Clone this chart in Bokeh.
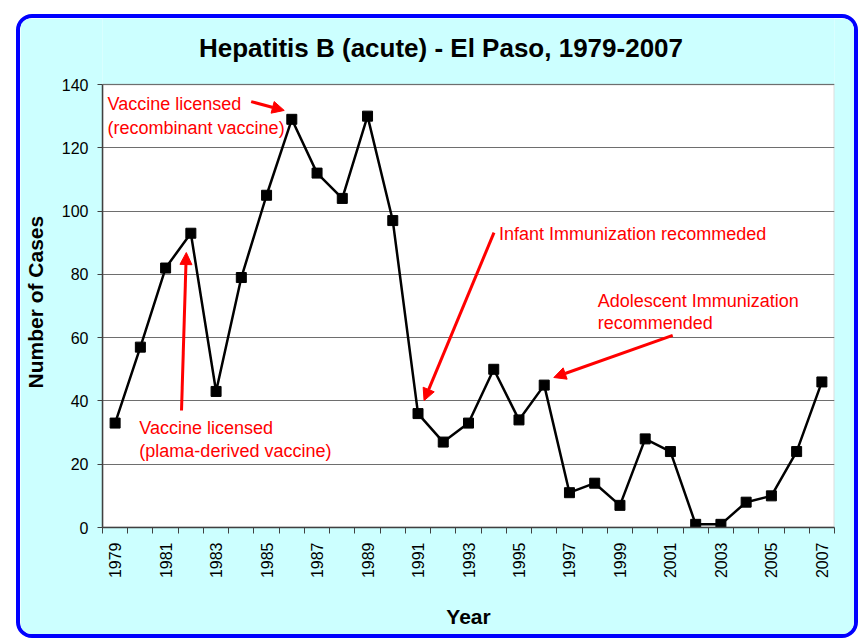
import math
from bokeh.plotting import figure
from bokeh.models import (FixedTicker, Label, Arrow, NormalHead, Range1d,
                          BoxAnnotation)
from bokeh.embed import file_html
from bokeh.resources import INLINE

# ---- data ----
years = list(range(1979, 2008))
cases = [33, 57, 82, 93, 43, 79, 105, 129, 112, 104, 130, 97, 36, 27, 33,
         50, 34, 45, 11, 14, 7, 28, 24, 1, 1, 8, 10, 24, 46]
y_ticks = [0, 20, 40, 60, 80, 100, 120, 140]
y_max = 140
x_label_years = list(range(1979, 2008, 2))
x_boundaries = [y - 0.5 for y in years] + [years[-1] + 0.5]
title_text = "Hepatitis B (acute) - El Paso, 1979-2007"

FONT = "Liberation Sans"
NB = "\u00a0"

# frame extends above the plotting area so the title can sit inside it
p = figure(width=842, height=624, output_backend="svg", toolbar_location=None,
           title=None,
           x_range=Range1d(1978.5, 2007.5), y_range=Range1d(0, 160.86),
           min_border_left=81, min_border_right=28, min_border_top=0,
           min_border_bottom=115)
p.styles = {"border": "4px solid #0000FF", "border-radius": "16px",
            "overflow": "hidden", "margin-left": "16px", "margin-top": "14px"}

p.border_fill_color = "#CCFFFF"
p.background_fill_color = "#CCFFFF"
p.outline_line_color = None

# white plotting area with grey border
p.add_layout(BoxAnnotation(left=x_boundaries[0], right=x_boundaries[-1],
                           bottom=0, top=y_max, fill_color="white",
                           fill_alpha=1.0, line_color="#8c8c8c",
                           line_width=2, level="image"))

# title
p.add_layout(Label(x=1991.91, y=151.4, text=title_text, text_color="black",
                   text_font=FONT, text_font_size="26px",
                   text_font_style="bold", text_align="center",
                   text_baseline="alphabetic"))

# grid
p.xgrid.grid_line_color = None
p.ygrid.grid_line_color = "#6e6e6e"
p.ygrid.grid_line_width = 1
p.ygrid.ticker = FixedTicker(ticks=y_ticks)

# y axis
p.yaxis.ticker = FixedTicker(ticks=y_ticks)
p.yaxis.bounds = (0, y_max)
p.yaxis.axis_label = "Number of Cases" + NB * 10
p.yaxis.axis_label_text_font = FONT
p.yaxis.axis_label_text_font_size = "21px"
p.yaxis.axis_label_text_font_style = "bold"
p.yaxis.axis_label_text_color = "black"
p.yaxis.axis_label_standoff = 12
p.yaxis.major_label_text_font = FONT
p.yaxis.major_label_text_font_size = "16px"
p.yaxis.major_label_text_color = "black"
p.yaxis.major_label_standoff = 9
p.yaxis.major_tick_out = 5
p.yaxis.major_tick_in = 0
p.yaxis.minor_tick_out = 0
p.yaxis.minor_tick_in = 0
p.yaxis.axis_line_color = "#404040"
p.yaxis.axis_line_width = 1.5
p.yaxis.major_tick_line_color = "#404040"

# x axis
p.xaxis.ticker = FixedTicker(ticks=x_label_years, minor_ticks=x_boundaries)
p.xaxis.axis_label = "Year"
p.xaxis.axis_label_text_font = FONT
p.xaxis.axis_label_text_font_size = "21px"
p.xaxis.axis_label_text_font_style = "bold"
p.xaxis.axis_label_text_color = "black"
p.xaxis.axis_label_standoff = 24
p.xaxis.major_label_text_font = FONT
p.xaxis.major_label_text_font_size = "16px"
p.xaxis.major_label_text_color = "black"
p.xaxis.major_label_orientation = math.pi / 2
p.xaxis.major_label_standoff = 9
p.xaxis.major_tick_out = 0
p.xaxis.major_tick_in = 0
p.xaxis.minor_tick_out = 6
p.xaxis.minor_tick_in = 0
p.xaxis.minor_tick_line_color = "#404040"
p.xaxis.axis_line_color = "#404040"
p.xaxis.axis_line_width = 1.5

# series
p.line(years, cases, line_color="black", line_width=2.5)
p.scatter(years, cases, marker="square", size=10, fill_color="black",
          line_color="black")

# annotations
RED = "#FF0000"


def add_text(x, y, txt):
    p.add_layout(Label(x=x, y=y, text=txt, text_color=RED, text_font=FONT,
                       text_font_size="18px", text_align="left",
                       text_baseline="alphabetic"))


def add_arrow(x0, y0, x1, y1):
    p.add_layout(Arrow(end=NormalHead(size=12, fill_color=RED, line_color=RED),
                       x_start=x0, y_start=y0, x_end=x1, y_end=y1,
                       line_color=RED, line_width=3))


add_text(1978.70, 133.7, "Vaccine licensed")
add_text(1978.70, 126.4, "(recombinant vaccine)")
add_arrow(1984.39, 134.6, 1985.70, 131.8)

add_text(1979.96, 31.3, "Vaccine licensed")
add_text(1979.96, 24.3, "(plama-derived vaccine)")
add_arrow(1981.63, 37.0, 1981.82, 86.9)

add_text(1994.21, 92.6, "Infant Immunization recommeded")
add_arrow(1994.01, 93.2, 1991.24, 40.1)

add_text(1998.12, 71.5, "Adolescent Immunization")
add_text(1998.12, 64.5, "recommended")
add_arrow(2001.09, 60.7, 1996.38, 47.4)

open("out.html", "w").write(file_html(p, INLINE))
